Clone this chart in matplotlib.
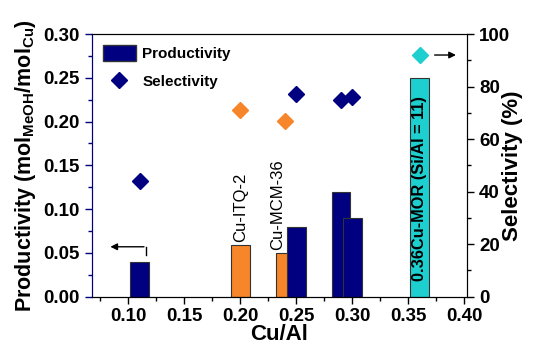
import matplotlib.pyplot as plt
from matplotlib.ticker import MultipleLocator
from matplotlib.patches import Patch
from matplotlib.lines import Line2D

plt.rcParams['font.family'] = ['Liberation Sans', 'DejaVu Sans']
plt.rcParams['font.weight'] = 'bold'
plt.rcParams['mathtext.fontset'] = 'custom'
plt.rcParams['mathtext.bf'] = 'Liberation Sans:bold'

cu_al = [0.11, 0.20, 0.24, 0.25, 0.29, 0.30, 0.36]
productivity = [0.04, 0.059, 0.05, 0.08, 0.12, 0.09, 0.25]
selectivity = [44, 71, 67, 77, 75, 76, 92]
colors = ["navy", "#f7862a", "#f7862a", "navy", "navy", "navy", "#1ecfcf"]
labels = {0.20: "Cu-ITQ-2", 0.24: "Cu-MCM-36"}

fig = plt.figure(figsize=(5.47, 3.47), dpi=100)
ax = fig.add_axes([0.168, 0.145, 0.686, 0.757])
ax2 = ax.twinx()

# bars are drawn in the back axes, diamonds on the twin
for x, p, c in zip(cu_al, productivity, colors):
    ax.bar(x, p, width=0.0165, color=c, edgecolor="#333333", linewidth=0.8, zorder=2)
for x, s, c in zip(cu_al, selectivity, colors):
    ax2.plot(x, s, marker="D", markersize=8.5, color=c, linestyle="none")

ax.text(0.20, 0.062, labels[0.20], rotation=90, ha="center", va="bottom",
        fontsize=12, fontweight="normal")
ax.text(0.2335, 0.053, labels[0.24], rotation=90, ha="center", va="bottom",
        fontsize=12, fontweight="normal")
ax.text(0.36, 0.123, "0.36Cu-MOR (Si/Al = 11)", rotation=90, ha="center",
        va="center", fontsize=11.8, fontweight="bold")

# axis arrows
ax.plot([0.1158, 0.1158], [0.0476, 0.057], color="black", lw=1)
ax.annotate("", xy=(0.0815, 0.057), xytext=(0.1165, 0.057),
            arrowprops=dict(arrowstyle="-|>", color="black", lw=1, mutation_scale=10))
ax2.annotate("", xy=(0.395, 92), xytext=(0.371, 92),
             arrowprops=dict(arrowstyle="-|>", color="black", lw=1, mutation_scale=10))

ax.set_xlim(0.0675, 0.4025)
ax.set_ylim(0, 0.30)
ax2.set_ylim(0, 100)
ax.xaxis.set_minor_locator(MultipleLocator(0.025))
ax.yaxis.set_minor_locator(MultipleLocator(0.025))
ax2.yaxis.set_major_locator(MultipleLocator(20))
ax2.yaxis.set_minor_locator(MultipleLocator(10))
ax.set_xticks([0.10, 0.15, 0.20, 0.25, 0.30, 0.35, 0.40])
ax.set_xticklabels(["0.10", "0.15", "0.20", "0.25", "0.30", "0.35", "0.40"])
ax.set_yticks([0, 0.05, 0.10, 0.15, 0.20, 0.25, 0.30])
ax.set_yticklabels(["0.00", "0.05", "0.10", "0.15", "0.20", "0.25", "0.30"])

for a in (ax, ax2):
    a.tick_params(which="major", direction="out", length=5, width=1, labelsize=13.5)
    a.tick_params(which="minor", direction="out", length=3, width=1)
ax.tick_params(axis="y", which="both", colors="navy", labelcolor="black")
ax2.spines["left"].set_color("navy")
ax.spines["left"].set_color("navy")

ax.set_xlabel("Cu/Al", fontsize=16, fontweight="bold", labelpad=-1)
ax.set_ylabel(r"Productivity (mol$_{\mathbf{MeOH}}$/mol$_{\mathbf{Cu}}$)",
              fontsize=15.5, fontweight="bold", labelpad=4)
ax2.set_ylabel("Selectivity (%)", fontsize=16, fontweight="bold", labelpad=-6)

handles = [Patch(facecolor="navy", edgecolor="#333333"),
           Line2D([], [], marker="D", color="navy", linestyle="none", markersize=8.5)]
ax.legend(handles, ["Productivity", "Selectivity"], loc="upper left", frameon=False,
          fontsize=11, handlelength=2.2, handleheight=1.3, handletextpad=0.4,
          borderaxespad=0.2, borderpad=0.5, labelspacing=0.75)

fig.savefig("out.png", dpi=100)
